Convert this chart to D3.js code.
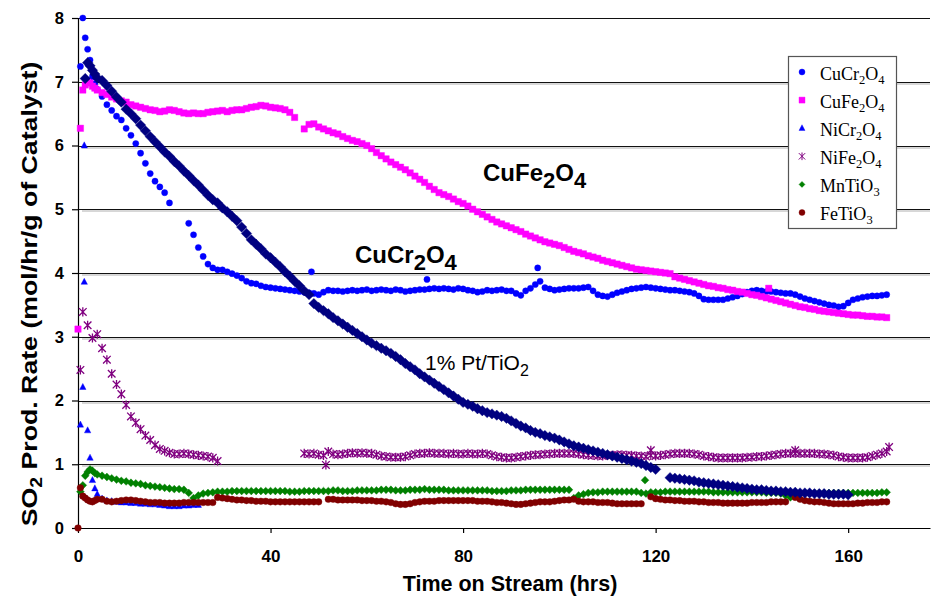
<!DOCTYPE html>
<html><head><meta charset="utf-8">
<script src="https://cdn.jsdelivr.net/npm/d3@7"></script>
<style>body{margin:0;background:#fff}svg{display:block}text{white-space:pre}</style>
</head><body>
<svg id="chart" width="945" height="597"></svg>
<script>
// ---------------- DATA ----------------
const hours = [0,0.5,1,1.5,2,2.5,3,3.5,4,
 5,6,7,8,9,
 10,11,12,13,14,15,16,17,18,19,
 20,21,22,23,24,25,26,27,28,29,
 30,31,32,33,34,35,36,37,38,39,
 40,41,42,43,44,45,46,47,48,49,
 50,51,52,53,54,55,56,57,58,59,
 60,61,62,63,64,65,66,67,68,69,
 70,71,72,73,74,75,76,77,78,79,
 80,81,82,83,84,85,86,87,88,89,
 90,91,92,93,94,95,96,97,98,99,
 100,101,102,103,104,105,106,107,108,109,
 110,111,112,113,114,115,116,117,118,119,
 120,121,122,123,124,125,126,127,128,129,
 130,131,132,133,134,135,136,137,138,139,
 140,141,142,143,144,145,146,147,148,149,
 150,151,152,153,154,155,156,157,158,159,
 160,161,162,163,164,165,166,167,168];

const cuCr2O4 = [null,7.24,8.0,7.69,7.51,7.34,7.08,6.97,6.88,
 6.77,6.64,6.55,6.46,6.4,
 6.27,6.16,6.03,5.88,5.72,5.56,5.44,5.35,5.26,5.1,
 null,null,null,4.78,4.6,4.4,4.26,4.14,4.08,4.05,
 4.05,4.02,3.99,3.96,3.92,3.87,3.84,3.83,3.8,3.78,
 3.77,3.76,3.75,3.74,3.73,3.72,3.71,3.7,3.69,3.68,
 3.66,3.7,3.73,3.72,3.72,3.71,3.72,3.73,3.72,3.73,
 3.74,3.72,3.73,3.74,3.73,3.72,3.74,3.73,3.71,3.72,
 3.73,3.74,3.74,3.75,3.76,3.75,3.76,3.75,3.74,3.76,
 3.75,3.73,3.72,3.7,3.71,3.73,3.72,3.73,3.74,3.72,
 3.72,3.68,3.65,3.72,3.76,3.82,3.87,3.77,3.75,3.73,
 3.74,3.75,3.76,3.76,3.76,3.77,3.78,3.72,3.66,3.64,
 3.63,3.66,3.69,3.71,3.73,3.75,3.76,3.77,3.78,3.77,
 3.76,3.75,3.74,3.73,3.73,3.72,3.71,3.7,3.68,3.64,
 3.59,3.58,3.58,3.58,3.58,3.6,3.62,3.64,3.67,3.7,
 3.72,3.73,3.72,3.71,3.71,3.7,3.69,3.68,3.68,3.66,
 3.63,3.6,3.58,3.56,3.54,3.52,3.5,3.49,3.47,3.48,
 3.53,3.58,3.6,3.62,3.63,3.64,3.64,3.65,3.66];
const cuCr2O4SpikeHours = [48.5,72.5,95.5];
const cuCr2O4SpikeValues = [4.02,3.9,4.08];

const cuFe2O4 = [3.12,6.27,6.87,6.95,7.0,6.98,6.93,6.9,6.87,
 6.83,6.8,6.76,6.73,6.7,
 6.68,6.64,6.62,6.6,6.58,6.56,6.55,6.53,6.54,6.56,
 6.55,6.53,6.51,6.5,6.51,6.5,6.5,6.52,6.53,6.54,
 6.55,6.53,6.55,6.56,6.56,6.58,6.6,6.61,6.63,6.62,
 6.6,6.59,6.58,6.56,6.52,6.44,null,6.26,6.33,6.34,
 6.29,6.26,6.23,6.2,6.18,6.14,6.11,6.08,6.06,6.03,
 6.0,5.95,5.89,5.84,5.79,5.74,5.7,5.66,5.62,5.57,
 5.52,5.47,5.42,5.36,5.31,5.26,5.23,5.2,5.16,5.12,
 5.09,5.05,5.0,4.96,4.92,4.88,4.84,4.8,4.77,4.74,
 4.71,4.68,4.65,4.61,4.58,4.55,4.52,4.49,4.47,4.45,
 4.43,4.4,4.37,4.34,4.32,4.3,4.27,4.25,4.23,4.2,
 4.18,4.16,4.14,4.12,4.1,4.08,4.06,4.05,4.04,4.03,
 4.02,4.01,4.0,3.99,3.94,3.92,3.9,3.88,3.86,3.84,
 3.82,3.8,3.79,3.77,3.76,3.74,3.73,3.71,3.7,3.68,
 3.66,3.65,3.63,3.61,3.59,3.57,3.55,3.53,3.51,3.49,
 3.47,3.46,3.44,3.43,3.41,3.4,3.39,3.38,3.37,3.36,
 3.35,3.34,3.34,3.33,3.32,3.32,3.31,3.31,3.3];
const cuFe2O4SpikeHours = [143.5];
const cuFe2O4SpikeValues = [3.76];

const niCr2O4 = [null,1.62,2.21,null,1.53,1.1,0.75,0.62,0.53,
 0.46,0.43,0.42,0.41,0.4,
 0.4,0.39,0.39,0.38,0.38,0.37,0.37,0.36,0.35,0.34,
 0.34,0.34,0.35,0.35,0.36,0.36];
const niCr2O4SpikeHours = [1.3,1.3];
const niCr2O4SpikeValues = [6.0,3.86];

const niFe2O4 = [null,2.48,3.39,null,3.18,null,2.98,null,3.04,
 2.82,2.64,2.42,2.25,2.1,
 1.93,1.75,1.65,1.55,1.45,1.38,1.3,1.24,1.21,1.18,
 1.16,1.16,1.17,1.16,1.15,1.14,1.13,1.12,1.1,1.05,
 null,null,null,null,null,null,null,null,null,null,
 null,null,null,null,null,null,null,1.17,1.16,1.17,
 1.15,1.14,1.2,1.16,1.15,1.16,1.17,1.18,1.17,1.18,
 1.17,1.17,1.15,1.13,1.12,1.11,1.11,1.11,1.12,1.14,
 1.16,1.17,1.17,1.18,1.17,1.17,1.17,1.16,1.17,1.16,
 1.16,1.17,1.16,1.16,1.17,1.16,1.14,1.12,1.11,1.1,
 1.1,1.11,1.12,1.13,1.14,1.15,1.15,1.16,1.16,1.17,
 1.17,1.17,1.17,1.17,1.16,1.15,1.14,1.14,1.13,1.13,
 1.14,1.14,1.15,1.15,1.14,1.14,1.13,1.13,1.12,1.14,
 1.13,1.14,1.15,1.16,1.17,1.17,1.17,1.17,1.16,1.15,
 1.13,1.12,1.11,1.1,1.1,1.1,1.1,1.1,1.1,1.11,
 1.11,1.12,1.12,1.13,1.14,1.15,1.16,1.17,1.17,1.17,
 1.17,1.17,1.17,1.17,1.16,1.16,1.15,1.14,1.12,1.11,
 1.1,1.1,1.1,1.1,1.11,1.13,1.15,1.17,1.2];
const niFe2O4SpikeHours = [51.5,119,149,168.5];
const niFe2O4SpikeValues = [0.99,1.22,1.22,1.27];

const mnTiO3 = [null,0.57,0.67,0.82,0.88,0.92,0.9,0.86,0.84,
 0.82,0.8,0.78,0.76,0.74,
 0.73,0.71,0.7,0.69,0.67,0.66,0.65,0.64,0.63,0.62,
 0.61,0.61,0.6,0.55,0.47,0.51,0.54,0.55,0.56,0.57,
 0.57,0.57,0.58,0.58,0.58,0.58,0.58,0.58,0.58,0.58,
 0.58,0.58,0.58,0.58,0.57,0.57,0.57,0.58,0.58,0.58,
 0.58,0.58,0.58,0.59,0.59,0.58,0.58,0.58,0.59,0.59,
 0.59,0.59,0.59,0.6,0.6,0.6,0.59,0.59,0.59,0.6,
 0.6,0.6,0.61,0.6,0.6,0.6,0.6,0.59,0.59,0.59,
 0.59,0.59,0.59,0.59,0.59,0.59,0.58,0.58,0.58,0.58,
 0.59,0.59,0.59,0.6,0.6,0.6,0.6,0.6,0.6,0.6,
 0.6,0.6,0.6,0.47,0.51,0.53,0.55,0.56,0.56,0.57,
 0.57,0.57,0.57,0.57,0.57,0.57,0.57,0.55,0.54,0.56,
 0.56,0.56,0.57,0.57,0.57,0.57,0.57,0.57,0.57,0.57,
 0.57,0.57,0.56,0.56,0.56,0.56,0.56,0.56,0.56,0.56,
 0.56,0.56,0.56,0.55,0.55,0.55,0.54,0.51,0.48,0.52,
 0.54,0.55,0.55,0.55,0.55,0.55,0.55,0.55,0.55,0.55,
 0.55,0.55,0.55,0.55,0.55,0.55,0.55,0.56,0.56];
const mnTiO3SpikeHours = [117.8];
const mnTiO3SpikeValues = [0.75];

const feTiO3 = [0,0.63,0.5,0.47,0.44,0.42,0.41,0.43,0.45,
 0.45,0.42,0.41,0.42,0.43,
 0.44,0.44,0.43,0.42,0.41,0.4,0.4,0.4,0.39,0.39,
 0.39,0.39,0.4,0.4,0.4,0.4,0.4,0.4,0.4,0.48,
 0.47,0.46,0.45,0.44,0.44,0.43,0.43,0.42,0.42,0.42,
 0.41,0.41,0.41,0.41,0.41,0.41,0.41,0.41,0.41,0.41,
 0.41,null,0.45,0.45,0.44,0.44,0.44,0.44,0.44,0.43,
 0.43,0.43,0.42,0.42,0.41,0.4,0.38,0.37,0.37,0.38,
 0.4,0.41,0.42,0.42,0.42,0.43,0.43,0.43,0.43,0.43,
 0.43,0.43,0.43,0.42,0.42,0.42,0.41,0.4,0.4,0.39,
 0.38,0.37,0.37,0.38,0.39,0.4,0.41,0.41,0.41,0.42,
 0.43,0.44,0.44,0.45,0.42,0.41,0.41,0.41,0.4,0.4,
 0.4,0.39,0.38,0.38,0.38,0.38,0.38,0.38,null,0.49,
 0.46,0.45,0.44,0.44,0.43,0.43,0.42,0.42,0.42,0.41,
 0.41,0.4,0.4,0.4,0.39,0.39,0.39,0.39,0.39,0.39,
 0.4,0.4,0.4,0.4,0.41,0.41,0.41,0.41,null,0.48,
 0.45,0.43,0.42,0.41,0.41,0.4,0.39,0.38,0.38,0.38,
 0.38,0.38,0.39,0.39,0.4,0.4,0.4,0.41,0.41];

const ptTiO2 = [null,null,null,7.05,7.3,7.25,7.18,7.12,7.06,
 7.02,6.94,6.85,6.76,6.68,
 6.57,6.5,6.42,6.32,6.23,6.14,6.06,5.98,5.9,5.83,
 5.75,5.68,5.6,5.53,5.45,5.38,5.3,5.22,5.15,5.1,
 5.02,4.96,4.89,4.82,4.72,4.62,4.52,4.45,4.38,4.3,
 4.24,4.17,4.1,4.02,3.95,3.87,3.8,3.72,3.66,3.52,
 3.46,3.41,3.36,3.3,3.25,3.2,3.15,3.1,3.05,3.0,
 2.95,2.9,2.86,2.82,2.78,2.74,2.69,2.64,2.58,2.53,
 2.48,2.42,2.37,2.32,2.27,2.22,2.17,2.12,2.07,2.02,
 1.97,1.94,1.91,1.87,1.84,1.81,1.79,1.77,1.75,1.72,
 1.68,1.64,1.6,1.57,1.53,1.5,1.48,1.45,1.43,1.41,
 1.38,1.35,1.32,1.29,1.27,1.25,1.23,1.21,1.19,1.17,
 1.15,1.13,1.11,1.09,1.07,1.05,1.03,1.01,0.98,0.95,
 0.92,null,null,0.79,0.78,0.77,0.76,0.75,0.74,0.72,
 0.71,0.7,0.69,0.68,0.67,0.66,0.65,0.64,0.63,0.62,
 0.61,0.6,0.6,0.59,0.58,0.58,0.57,0.57,0.56,0.56,
 0.55,0.55,0.55,0.54,0.54,0.54,0.53,0.53,0.53,0.53,
 0.52];

const xTicks = [0,40,80,120,160];
const yTicks = [0,1,2,3,4,5,6,7,8];
const legendNames = ["CuCr2O4","CuFe2O4","NiCr2O4","NiFe2O4","MnTiO3","FeTiO3"];
const annotations = ["CuFe2O4","CuCr2O4","1% Pt/TiO2"];
const xTitle = "Time on Stream (hrs)";
const yTitle = "SO2 Prod. Rate (mol/hr/g of Catalyst)";

// ---------------- CHART ----------------
const svg = d3.select("#chart");
const FONT = "'Liberation Sans', Arial, sans-serif";
const SERIF = "'Liberation Serif', 'Times New Roman', serif";
const x = d3.scaleLinear().domain([0,177]).range([78,930]);
const y = d3.scaleLinear().domain([0,8]).range([528,18]);

function rich(sel, str, subSize, shift){
  const parts = str.split(/(?<=[A-Za-z])(\d+)/);
  let down = false;
  parts.forEach((p,i)=>{
    if(p==="") return;
    const t = sel.append("tspan").text(p);
    if(i%2===1){ t.attr("font-size",subSize).attr("dy",shift); down=true; }
    else if(down){ t.attr("dy",-shift); down=false; }
  });
  return sel;
}

// gridlines
const grid = svg.append("g");
yTicks.filter(v=>v>0).forEach(v=>{
  const yy = Math.round(y(v))+0.5;
  grid.append("line").attr("x1",x(0)).attr("x2",x(177)).attr("y1",yy).attr("y2",yy)
    .attr("stroke","#111").attr("stroke-width",1.1);
  if(v<8) grid.append("line").attr("x1",x(0)+4).attr("x2",x(177)).attr("y1",yy+1.5).attr("y2",yy+1.5)
    .attr("stroke","#b0b0b0").attr("stroke-width",1);
});

// axes
const yAxis = svg.append("g").attr("transform",`translate(${x(0)},0)`)
  .call(d3.axisLeft(y).tickValues(yTicks).tickSize(6).tickSizeOuter(0).tickPadding(8).tickFormat(d3.format("d")));
const xAxis = svg.append("g").attr("transform",`translate(0,${y(0)})`)
  .call(d3.axisBottom(x).tickValues(xTicks).tickSize(5).tickSizeOuter(0).tickPadding(17).tickFormat(d3.format("d")));
[yAxis,xAxis].forEach(a=>{
  a.select(".domain").attr("stroke","#000").attr("stroke-width",1.2);
  a.selectAll(".tick line").attr("stroke","#000").attr("stroke-width",1.2);
  a.selectAll(".tick text").attr("fill","#000").attr("font-family",FONT).attr("font-weight","bold");
});
yAxis.selectAll(".tick text").attr("font-size",16.5);
xAxis.selectAll(".tick text").attr("font-size",17);

// symbols
function shapePath(shape, r){
  switch(shape){
    case "circle": return d3.symbol(d3.symbolCircle, Math.PI*r*r)();
    case "square": return `M${-r},${-r}H${r}V${r}H${-r}Z`;
    case "triangle": return `M0,${-r*1.15}L${r},${r*0.75}L${-r},${r*0.75}Z`;
    case "diamond": return `M0,${-r}L${r},0L0,${r}L${-r},0Z`;
    case "star": return `M${-r},${-r}L${r},${r}M${-r},${r}L${r},${-r}M0,${-r*1.2}L0,${r*1.2}`;
  }
}
function points(vals, sh, sv){
  const p = vals.map((v,i)=>({t:hours[i], v})).filter(d=>d.v!=null && d.t!=null);
  (sh||[]).forEach((t,i)=>p.push({t, v:sv[i]}));
  return p;
}
const series = [
  {name:legendNames[0], pts:points(cuCr2O4,cuCr2O4SpikeHours,cuCr2O4SpikeValues), shape:"circle", color:"#0000ff", r:3.1},
  {name:legendNames[1], pts:points(cuFe2O4,cuFe2O4SpikeHours,cuFe2O4SpikeValues), shape:"square", color:"#ff00ff", r:3.2},
  {name:legendNames[2], pts:points(niCr2O4,niCr2O4SpikeHours,niCr2O4SpikeValues), shape:"triangle", color:"#0000ff", r:3.2},
  {name:legendNames[3], pts:points(niFe2O4,niFe2O4SpikeHours,niFe2O4SpikeValues), shape:"star", color:"#800080", r:3.8},
  {name:legendNames[4], pts:points(mnTiO3,mnTiO3SpikeHours,mnTiO3SpikeValues), shape:"diamond", color:"#008000", r:3.9},
  {name:legendNames[5], pts:points(feTiO3), shape:"circle", color:"#800000", r:3.3},
  {name:"Pt", pts:points(ptTiO2), shape:"diamond", color:"#000080", r:5.2}
];
const marks = svg.append("g");
series.forEach(s=>{
  const path = shapePath(s.shape, s.r);
  const g = marks.append("g");
  g.selectAll("path").data(s.pts).join("path")
    .attr("transform",d=>`translate(${x(d.t)},${y(d.v)})`)
    .attr("d",path)
    .attr("fill", s.shape==="star" ? "none" : s.color)
    .attr("stroke", s.color)
    .attr("stroke-width", s.shape==="star" ? 1.3 : 0.4);
});

// annotations
const annStyle = [
  {x:483, y:181, size:24, bold:true},
  {x:355, y:263, size:24, bold:true},
  {x:425, y:370, size:21, bold:false}
];
annotations.forEach((a,i)=>{
  const st = annStyle[i];
  const t = svg.append("text").attr("x",st.x).attr("y",st.y)
    .attr("font-family",FONT).attr("font-size",st.size)
    .attr("font-weight",st.bold?"bold":"normal").attr("fill","#000");
  rich(t, a, st.bold?22:16, st.bold?7:6);
});

// legend
const lg = svg.append("g");
lg.append("rect").attr("x",788.5).attr("y",56.5).attr("width",108).attr("height",172)
  .attr("fill","#fff").attr("stroke","#555").attr("stroke-width",1.2);
series.slice(0,6).forEach((s,i)=>{
  const cy = 72 + i*28.1;
  lg.append("path").attr("transform",`translate(802,${cy})`)
    .attr("d",shapePath(s.shape, s.shape==="star"?3.2:3))
    .attr("fill", s.shape==="star"?"none":s.color).attr("stroke",s.color)
    .attr("stroke-width", s.shape==="star"?1:0.4);
  const t = lg.append("text").attr("x",820).attr("y",cy+7.5)
    .attr("font-family",SERIF).attr("font-size",18).attr("fill","#000");
  rich(t, s.name, 12.5, 4);
});

// axis titles
const xt = svg.append("text").attr("x",510).attr("y",591).attr("text-anchor","middle")
  .attr("font-family",FONT).attr("font-size",21.5).attr("font-weight","bold").attr("fill","#000");
rich(xt, xTitle, 15, 5);

const yt = svg.append("text").attr("x",0).attr("y",0).attr("text-anchor","middle")
  .attr("font-family",FONT).attr("font-size",22).attr("font-weight","bold").attr("fill","#000");
rich(yt, yTitle, 16, 5);
const natural = yt.node().getComputedTextLength();
const target = 465;
yt.attr("transform",`translate(37,294) rotate(-90) scale(${target/natural},1)`);
</script>
</body></html>
